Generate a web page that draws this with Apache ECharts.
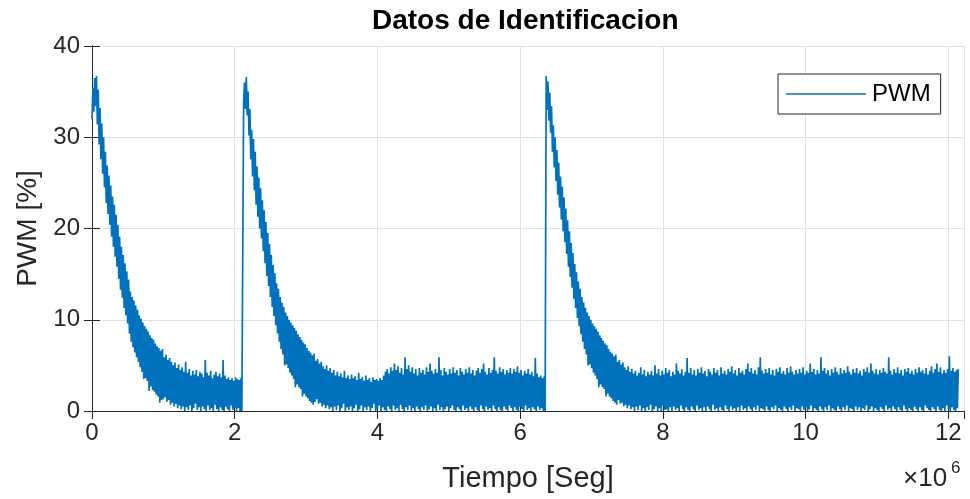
<!DOCTYPE html>
<html><head><meta charset="utf-8">
<script src="https://cdn.jsdelivr.net/npm/echarts@6/dist/echarts.min.js"></script>
<style>html,body{margin:0;padding:0;background:#fff}#c{width:970px;height:499px}</style>
</head><body><div id="c"></div><script>
// sampling step of the recorded signal (seconds) and segment start times
const dt = 12500;
const seg1Start = 0;
const seg2Start = 2125000;
const seg3Start = 6365000;

// PWM [%] samples, segment by segment
const seg1 = [
32.0,35.4,32.8,36.5,33.4,36.7,31.4,35.2,29.2,33.2,
27.6,31.5,26.0,30.0,24.5,28.4,22.8,26.9,21.6,25.8,
20.4,24.7,19.1,23.5,18.0,22.6,16.9,21.5,15.8,20.4,
14.5,19.1,13.3,18.0,12.4,17.1,11.3,16.2,10.5,15.3,
9.6,14.4,8.5,13.1,7.6,12.5,7.0,12.1,6.4,11.6,
5.9,11.1,5.4,10.5,4.8,10.1,4.3,9.7,3.5,9.3,
3.6,9.0,3.3,8.7,2.2,8.3,2.7,8.0,2.3,7.8,
2.1,7.4,1.8,7.1,1.6,6.9,0.9,6.6,1.2,6.8,
1.3,5.9,1.5,6.2,1.0,5.6,1.2,5.8,0.7,5.4,
0.9,5.0,0.5,5.3,0.8,4.7,0.3,5.1,0.6,4.5,
0.2,4.8,0.5,4.3,0.0,5.4,0.4,4.2,0.1,4.6,
0.6,3.9,0.0,4.4,0.3,4.0,0.8,4.5,0.1,3.8,
0.4,4.3,0.0,4.1,0.5,3.7,0.2,5.6,0.0,4.2,
0.6,3.9,0.1,4.4,0.3,3.6,0.0,4.0,0.7,4.3,
0.2,3.8,0.0,4.1,0.4,3.7,0.1,5.6,0.0,3.9,
0.5,3.5,0.2,3.7,0.0,3.4,0.6,3.6,0.1,3.3,
0.4,3.7,0.0,3.5,0.3,3.4,0.0,3.6,0.0];

const seg2 = [
33.8,36.0,33.1,36.6,32.4,35.0,30.2,33.1,27.6,30.8,
25.7,29.8,24.2,28.4,22.6,26.8,21.3,25.6,20.0,24.4,
18.9,23.1,17.5,22.0,16.2,20.7,14.8,19.5,13.7,18.3,
12.5,17.1,11.4,16.0,10.4,15.1,9.4,14.0,8.5,13.4,
7.6,12.5,6.8,11.9,6.2,11.4,5.0,10.8,5.1,10.4,
4.7,10.0,4.2,9.7,3.9,9.4,3.5,9.1,2.6,8.8,
2.9,8.4,2.6,8.1,2.4,7.8,1.6,7.5,1.9,7.3,
1.6,6.9,1.4,6.6,1.1,6.4,0.9,6.1,0.7,6.3,
1.0,5.5,1.3,5.7,0.8,5.2,0.9,5.4,0.5,4.9,
0.7,4.6,0.3,5.0,0.6,4.4,0.2,4.7,0.4,4.2,
0.0,4.5,0.5,3.9,0.1,4.3,0.6,3.8,0.0,4.1,
0.3,3.7,0.8,4.4,0.0,3.6,0.4,3.9,0.1,3.5,
0.5,4.0,0.0,3.6,0.3,3.8,0.7,3.4,0.0,4.2,
0.2,3.5,0.6,3.7,0.0,3.3,0.4,3.9,0.1,3.4,
0.5,3.6,0.0,3.2,0.3,3.7,0.8,3.4,0.0,3.5,
0.2,3.3,0.6,3.6,0.0,3.4,0.4,3.9,0.1,4.3,
0.0,4.6,0.5,4.1,0.2,4.8,0.0,4.4,0.6,5.2,
0.1,4.5,0.3,4.9,0.0,4.2,0.7,4.7,0.2,4.0,
0.0,5.9,0.4,4.6,0.1,5.0,0.6,4.3,0.0,4.8,
0.3,4.1,0.0,4.6,0.5,3.9,0.2,4.7,0.0,4.2,
0.4,4.5,0.1,4.0,0.6,4.8,0.0,4.3,0.2,5.2,
0.5,4.4,0.0,4.1,0.3,4.6,0.0,4.2,0.7,5.9,
0.1,4.5,0.4,3.9,0.0,4.7,0.2,4.3,0.5,4.0,
0.0,4.6,0.3,4.1,0.6,4.8,0.1,4.2,0.0,4.5,
0.4,3.9,0.2,4.7,0.0,4.3,0.6,4.0,0.1,4.6,
0.3,4.2,0.0,4.8,0.5,4.1,0.2,4.5,0.0,3.9,
0.4,4.4,0.1,4.7,0.0,4.2,0.6,4.6,0.2,5.2,
0.0,4.3,0.5,4.0,0.1,4.7,0.3,4.2,0.0,4.5,
0.6,5.9,0.2,4.4,0.0,4.1,0.4,4.8,0.1,4.3,
0.0,4.6,0.5,4.0,0.2,4.5,0.0,4.2,0.6,4.7,
0.3,4.1,0.0,4.6,0.4,4.3,0.1,4.9,0.0,4.2,
0.5,4.5,0.2,3.9,0.0,4.4,0.6,4.1,0.1,4.6,
0.3,4.0,0.0,4.3,0.4,3.8,0.2,5.8,0.0,4.1,
0.5,3.7,0.1,3.9,0.3,3.6,0.0,3.8,0.0];

const seg3 = [
36.7,33.0,36.1,31.8,34.9,30.5,33.4,28.4,31.3,26.7,
30.0,25.2,28.6,23.7,27.2,22.3,25.7,21.0,24.6,19.7,
23.4,18.5,22.2,17.2,20.9,15.8,19.7,14.7,18.4,13.5,
17.3,12.3,16.1,11.3,15.2,10.2,14.2,9.3,13.4,8.4,
12.5,7.6,11.9,6.8,11.3,6.2,10.8,5.0,10.4,5.1,
10.0,4.7,9.6,4.2,9.3,3.9,9.0,3.5,8.7,2.6,
8.3,2.9,8.0,2.6,7.7,2.4,7.4,1.6,7.2,1.9,
6.8,1.6,6.5,1.4,6.3,1.1,6.0,0.9,6.2,0.7,
5.4,1.2,5.6,0.8,5.1,0.9,5.3,0.5,4.8,0.7,
4.5,0.3,4.9,0.6,4.3,0.2,4.6,0.4,4.1,0.0,
4.4,0.5,3.9,0.1,4.2,0.6,4.8,0.0,4.0,0.3,
4.5,0.0,3.8,0.4,4.3,0.1,4.0,0.7,4.4,0.0,
3.9,0.2,5.0,0.5,4.1,0.0,4.6,0.3,3.9,0.0,
4.4,0.6,4.0,0.1,4.7,0.2,4.2,0.0,4.5,0.4,
3.8,0.0,4.3,0.5,4.0,0.1,5.2,0.3,4.4,0.0,
4.1,0.6,4.6,0.2,3.9,0.0,4.3,0.4,5.8,0.1,
4.2,0.0,4.7,0.5,4.0,0.2,4.5,0.0,3.9,0.6,
4.6,0.1,4.2,0.3,4.8,0.0,4.1,0.4,4.4,0.0,
3.8,0.5,4.6,0.2,4.3,0.0,4.0,0.7,4.7,0.1,
4.2,0.3,4.5,0.0,3.9,0.4,4.8,0.1,4.1,0.0,
4.4,0.6,4.0,0.2,4.6,0.0,4.3,0.5,4.9,0.1,
4.1,0.3,4.5,0.0,3.9,0.4,4.7,0.0,4.2,0.6,
4.4,0.1,4.0,0.3,4.6,0.0,5.2,0.5,4.3,0.2,
4.7,0.0,4.1,0.4,4.5,0.1,4.0,0.6,4.8,0.0,
5.9,0.3,4.4,0.2,4.1,0.0,4.6,0.5,4.2,0.1,
4.7,0.0,4.0,0.4,4.5,0.2,3.9,0.6,4.6,0.0,
4.3,0.3,4.8,0.1,4.1,0.0,4.4,0.5,4.0,0.2,
4.7,0.0,4.2,0.4,4.9,0.1,4.3,0.6,4.0,0.0,
4.5,0.3,4.1,0.2,4.6,0.0,4.2,0.5,4.8,0.1,
4.0,0.4,4.4,0.0,4.2,0.2,5.2,0.6,4.3,0.0,
4.6,0.3,4.0,0.1,4.5,0.0,4.1,0.5,5.9,0.2,
4.4,0.0,4.7,0.4,4.1,0.1,4.5,0.6,3.9,0.0,
4.6,0.3,4.2,0.1,4.8,0.0,4.3,0.5,4.0,0.2,
4.7,0.0,4.1,0.4,4.5,0.1,4.2,0.6,4.9,0.0,
4.3,0.3,4.0,0.2,4.6,0.0,4.2,0.5,4.7,0.1,
4.1,0.4,4.4,0.0,3.9,0.3,4.6,0.1,4.3,0.6,
4.8,0.0,4.2,0.2,5.2,0.5,4.4,0.0,4.1,0.3,
4.6,0.1,4.0,0.0,4.5,0.4,4.2,0.2,4.7,0.0,
4.3,0.6,4.1,0.1,5.9,0.3,4.4,0.0,4.0,0.5,
4.6,0.2,4.2,0.0,4.8,0.4,4.1,0.1,4.5,0.0,
3.9,0.6,4.6,0.2,4.3,0.0,4.7,0.3,4.1,0.1,
4.4,0.0,4.0,0.5,4.6,0.2,4.2,0.0,4.8,0.4,
4.3,0.1,4.5,0.0,4.1,0.6,4.7,0.3,4.0,0.1,
4.4,0.0,4.9,0.4,4.2,0.2,4.6,0.0,5.2,0.5,
4.3,0.1,4.8,0.0,4.1,0.3,4.5,0.0,4.2,0.6,
4.6,0.2,6.0,0.0,4.4,0.4,4.7,0.1,4.3,0.0,
4.5,0.3,4.6];

// axis ticks
const xTickValues = [0, 2e6, 4e6, 6e6, 8e6, 10e6, 12e6];
const xTickLabels = ['0', '2', '4', '6', '8', '10', '12'];
const yTickValues = [0, 10, 20, 30, 40];
const yTickLabels = ['0', '10', '20', '30', '40'];

const FONT = "'Liberation Sans', Arial, Helvetica, sans-serif";
const AX = '#262626';

function build(start, arr) { return arr.map((v, i) => [start + i * dt, v]); }
const data = build(seg1Start, seg1).concat(build(seg2Start, seg2), build(seg3Start, seg3));

const xMin = 0, xMax = 12.22e6;
function xFmt(v) { const i = xTickValues.indexOf(v); return i >= 0 ? xTickLabels[i] : ''; }
function yFmt(v) { const i = yTickValues.indexOf(v); return i >= 0 ? yTickLabels[i] : ''; }

const chart = echarts.init(document.getElementById('c'), null, {renderer: 'canvas'});
chart.setOption({
  animation: false,
  backgroundColor: '#fff',
  grid: {left: 92, top: 46, right: 6, bottom: 88, containLabel: false},
  graphic: [
    {type: 'text', left: 372, top: 7, style: {text: 'Datos de Identificacion', font: 'bold 28px ' + FONT, fill: '#000'}},
    {type: 'text', left: 903, top: 466, style: {text: '×10', font: '26px ' + FONT, fill: AX}},
    {type: 'text', left: 951, top: 460, style: {text: '6', font: '17px ' + FONT, fill: AX}}
  ],
  legend: {
    left: 778, top: 74, padding: [8, 10, 8, 8],
    borderColor: AX, borderWidth: 1, backgroundColor: '#fff',
    itemWidth: 80, itemHeight: 1.5, itemGap: 0,
    data: [{name: 'PWM', icon: 'rect'}],
    textStyle: {fontSize: 24, color: '#000', fontFamily: FONT, padding: [0, 0, 0, 1]}
  },
  xAxis: [{
    type: 'value', min: xMin, max: xMax, interval: 2e6, position: 'bottom',
    name: 'Tiempo [Seg]', nameLocation: 'middle', nameGap: 53,
    nameTextStyle: {fontSize: 29, color: AX, fontFamily: FONT},
    axisLine: {show: true, lineStyle: {color: AX, width: 1}},
    axisTick: {show: true, inside: true, length: 8, lineStyle: {color: AX}},
    axisLabel: {formatter: xFmt, fontSize: 24, color: AX, fontFamily: FONT, margin: 10, showMaxLabel: false},
    splitLine: {show: true, lineStyle: {color: '#e1e1e1', width: 1}}
  }, {
    type: 'value', min: xMin, max: xMax, interval: 2e6, position: 'top',
    axisLine: {show: true, lineStyle: {color: AX, width: 1}},
    axisTick: {show: true, inside: true, length: 8, lineStyle: {color: AX}},
    axisLabel: {show: false}, splitLine: {show: false}
  }],
  yAxis: [{
    type: 'value', min: 0, max: 40, interval: 10, position: 'left',
    name: 'PWM [%]', nameLocation: 'middle', nameGap: 48, nameRotate: 90,
    nameTextStyle: {fontSize: 28, color: AX, fontFamily: FONT},
    axisLine: {show: true, lineStyle: {color: AX, width: 1}},
    axisTick: {show: true, inside: true, length: 8, lineStyle: {color: AX}},
    axisLabel: {formatter: yFmt, fontSize: 24, color: AX, fontFamily: FONT, margin: 12},
    splitLine: {show: true, lineStyle: {color: '#e1e1e1', width: 1}}
  }, {
    type: 'value', min: 0, max: 40, interval: 10, position: 'right',
    axisLine: {show: true, lineStyle: {color: AX, width: 1}},
    axisTick: {show: true, inside: true, length: 8, lineStyle: {color: AX}},
    axisLabel: {show: false}, splitLine: {show: false}
  }],
  series: [{
    type: 'line', name: 'PWM', data: data, xAxisIndex: 0, yAxisIndex: 0,
    showSymbol: false, symbol: 'none', sampling: null,
    lineStyle: {color: '#0072BD', width: 1.7, join: 'bevel'},
    itemStyle: {color: '#0072BD'}
  }]
});
</script></body></html>
